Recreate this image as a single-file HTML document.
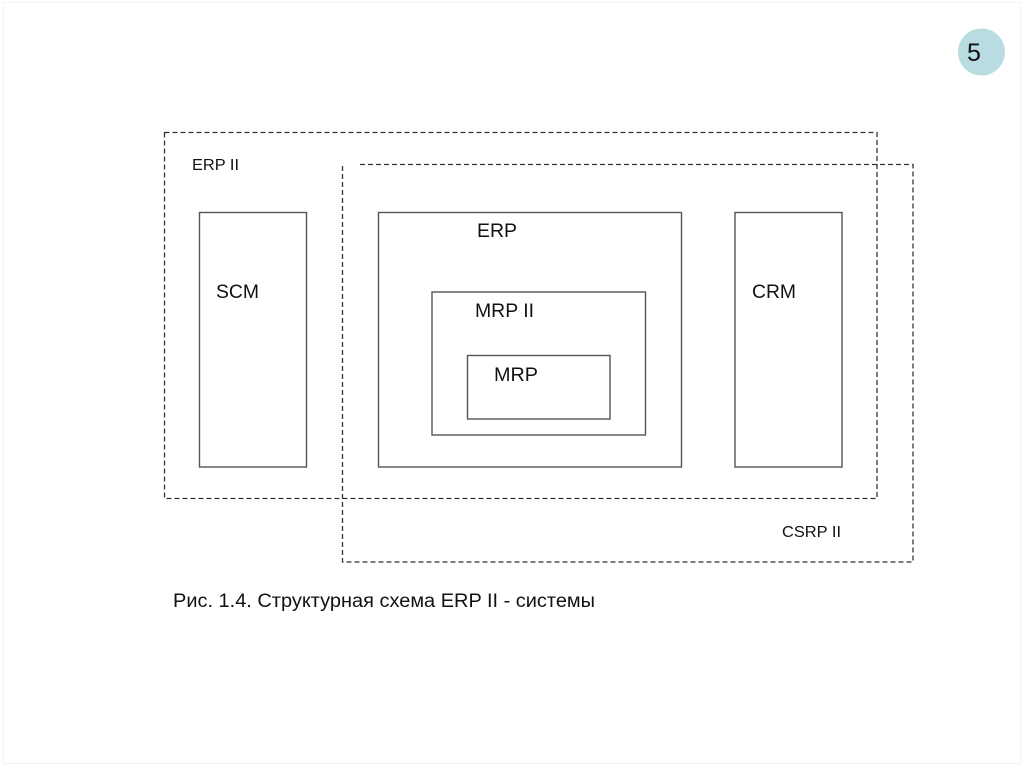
<!DOCTYPE html>
<html>
<head>
<meta charset="utf-8">
<style>
html,body{margin:0;padding:0;background:#fff;}
body{width:1024px;height:767px;overflow:hidden;}
svg{display:block;}
text{font-family:"Liberation Sans",Arial,sans-serif;fill:#111;}
</style>
</head>
<body>
<svg width="1024" height="767" viewBox="0 0 1024 767" xmlns="http://www.w3.org/2000/svg">
  <rect x="0" y="0" width="1024" height="767" fill="#fff"/>
  <!-- faint page frame -->
  <rect x="3.5" y="2.5" width="1017" height="761" fill="none" stroke="#f3f3f3" stroke-width="1"/>

  <!-- page number -->
  <circle cx="981.5" cy="52" r="23.5" fill="#b9dce2"/>
  <text x="967" y="61" font-size="25">5</text>

  <!-- ERP II dashed -->
  <rect x="164.5" y="132.5" width="712.5" height="366" fill="none" stroke="#333" stroke-width="1.3" stroke-dasharray="5,3"/>
  <!-- CSRP II dashed (open top-left corner) -->
  <path d="M360 164.5 H913 V562 H342.5 V164" fill="none" stroke="#333" stroke-width="1.3" stroke-dasharray="5,3"/>

  <!-- solid boxes -->
  <g fill="none" stroke="#555" stroke-width="1.4">
    <rect x="199.5" y="212.5" width="107" height="254.5"/>
    <rect x="378.5" y="212.5" width="303" height="254.5"/>
    <rect x="432" y="292" width="213.5" height="143"/>
    <rect x="467.5" y="355.5" width="142.5" height="63.5"/>
    <rect x="735" y="212.5" width="107" height="254.5"/>
  </g>

  <!-- labels -->
  <text x="192" y="170" font-size="16" textLength="47" lengthAdjust="spacingAndGlyphs">ERP II</text>
  <text x="216" y="298" font-size="19" textLength="43" lengthAdjust="spacingAndGlyphs">SCM</text>
  <text x="477" y="237" font-size="19" textLength="40" lengthAdjust="spacingAndGlyphs">ERP</text>
  <text x="475" y="317" font-size="19" textLength="59" lengthAdjust="spacingAndGlyphs">MRP II</text>
  <text x="494" y="381" font-size="19" textLength="44" lengthAdjust="spacingAndGlyphs">MRP</text>
  <text x="752" y="298" font-size="19" textLength="44" lengthAdjust="spacingAndGlyphs">CRM</text>
  <text x="782" y="537" font-size="16" textLength="59" lengthAdjust="spacingAndGlyphs">CSRP II</text>

  <text x="173" y="607" font-size="19" textLength="422" lengthAdjust="spacingAndGlyphs">Рис. 1.4. Структурная схема ERP II - системы</text>
</svg>
</body>
</html>
